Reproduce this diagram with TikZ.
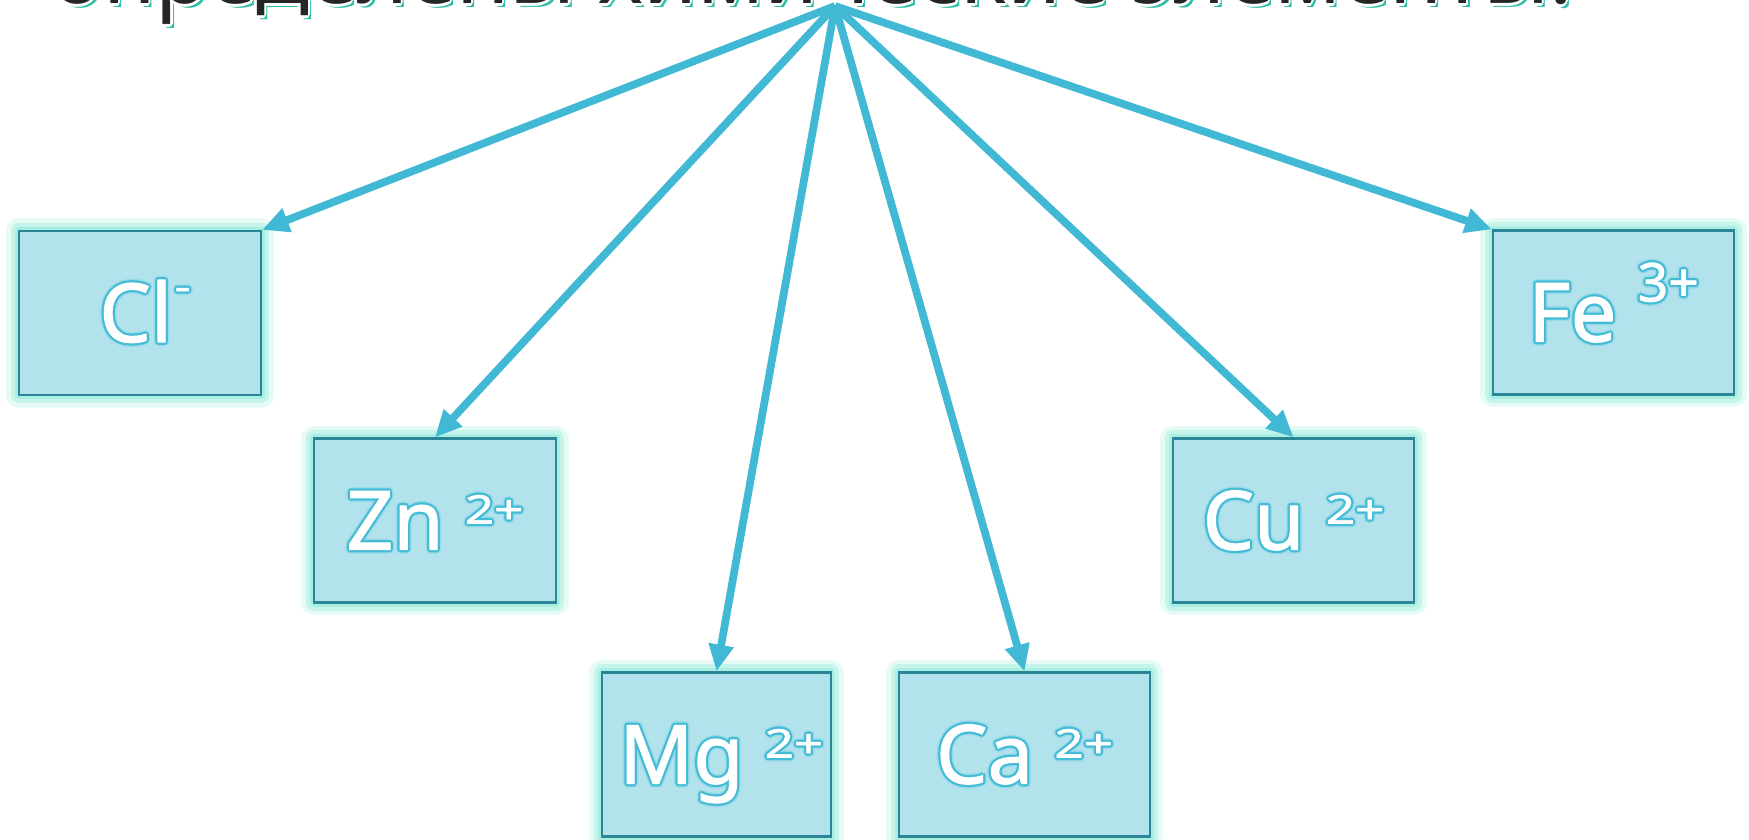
\documentclass[tikz,border=0pt]{standalone}
\usepackage{fontspec}
\usepackage{graphicx}
\setmainfont{Noto Sans}
\newfontfamily\lblfont[FakeBold=1.3]{Noto Sans}
\usetikzlibrary{arrows.meta}
\definecolor{arrowc}{HTML}{41B9D5}
\definecolor{boxfill}{HTML}{B2E2EC}
\definecolor{boxline}{HTML}{2A8696}
\definecolor{glowc}{HTML}{9FEEDF}
\definecolor{txtline}{HTML}{45BCD6}
\definecolor{titlec}{HTML}{262626}
\definecolor{shadowc}{HTML}{2DBFA6}

\newcommand{\offcopy}[4]{\rlap{\kern#1\raisebox{#2}{\textcolor{#3}{#4}}}}
\newcommand{\ring}[4]{%
 \offcopy{#2}{0pt}{#1}{#4}\offcopy{-#2}{0pt}{#1}{#4}%
 \offcopy{0pt}{#2}{#1}{#4}\offcopy{0pt}{-#2}{#1}{#4}%
 \offcopy{#3}{#3}{#1}{#4}\offcopy{-#3}{#3}{#1}{#4}%
 \offcopy{#3}{-#3}{#1}{#4}\offcopy{-#3}{-#3}{#1}{#4}}
\newcommand{\glowlabel}[1]{\ring{txtline!55}{2.6pt}{1.85pt}{#1}\ring{txtline}{1.6pt}{1.1pt}{#1}\textcolor{white}{#1}}
\newcommand{\titletext}[1]{\offcopy{2.4pt}{-2.4pt}{shadowc}{#1}\ring{white}{1.6pt}{1.1pt}{#1}\textcolor{titlec}{#1}}
\newcommand{\supsm}[1]{\raisebox{18.5pt}{\scalebox{1.3}[1]{\fontsize{28}{28}\selectfont #1}}}
\newcommand{\suplg}[1]{\raisebox{28.5pt}{\fontsize{38}{38}\selectfont #1}}

\tikzset{
  ionbox/.style={draw=boxline, line width=1.6pt, fill=boxfill, inner sep=0pt,
    minimum height=4.1cm,
    preaction={draw=glowc, line width=18pt, opacity=0.25, line join=round},
    preaction={draw=glowc, line width=12pt, opacity=0.45, line join=round},
    preaction={draw=glowc, line width=6pt, opacity=0.75, line join=round}},
  lbl/.style={anchor=base, yshift=-0.725cm, inner sep=0pt,
    font=\lblfont\fontsize{58}{58}\selectfont},
  arr/.style={draw=arrowc, line width=5.5pt,
    -{Triangle[length=19pt, width=17pt]}},
}

\begin{document}
\begin{tikzpicture}[x=0.025cm, y=-0.025cm]
\useasboundingbox (0,0) rectangle (1749,840);
\clip (0,0) rectangle (1749,840);
\fill[white] (0,0) rectangle (1749,840);

\node[anchor=base, inner sep=0pt, font=\fontsize{62}{62}\selectfont] (title) at (812,4)
  {\titletext{определены химические элементы:}};

\node[ionbox, minimum width=6.05cm] (cl) at (140,313) {};
\node[ionbox, minimum width=6.025cm] (fe) at (1613.5,312.5) {};
\node[ionbox, minimum width=6.05cm] (zn) at (435,520.5) {};
\node[ionbox, minimum width=6.025cm] (cu) at (1293.5,520.5) {};
\node[ionbox, minimum width=5.725cm] (mg) at (716.5,754.5) {};
\node[ionbox, minimum width=6.275cm] (ca) at (1024.5,754.5) {};

\node[lbl, xshift=0.125cm] (cltxt) at (cl.center)
  {\glowlabel{Cl\kern2pt\raisebox{30pt}{\scalebox{1.3}[1]{\fontsize{27}{27}\selectfont -}}}};
\node[lbl] (fetxt) at (fe.center) {\glowlabel{Fe \suplg{3+}}};
\node[lbl] (zntxt) at (zn.center) {\glowlabel{Zn \supsm{2+}}};
\node[lbl] (cutxt) at (cu.center) {\glowlabel{Cu \supsm{2+}}};
\node[lbl, xshift=0.12cm] (mgtxt) at (mg.center) {\glowlabel{Mg \supsm{2+}}};
\node[lbl] (catxt) at (ca.center) {\glowlabel{Ca \supsm{2+}}};

\coordinate (src) at (835,6);
\draw[arr] (src) -- (cl.north east);
\draw[arr] (src) -- (zn.north);
\draw[arr] (src) -- (mg.north);
\draw[arr] (src) -- (ca.north);
\draw[arr] (src) -- (cu.north);
\draw[arr] (src) -- (fe.north west);
\end{tikzpicture}
\end{document}
